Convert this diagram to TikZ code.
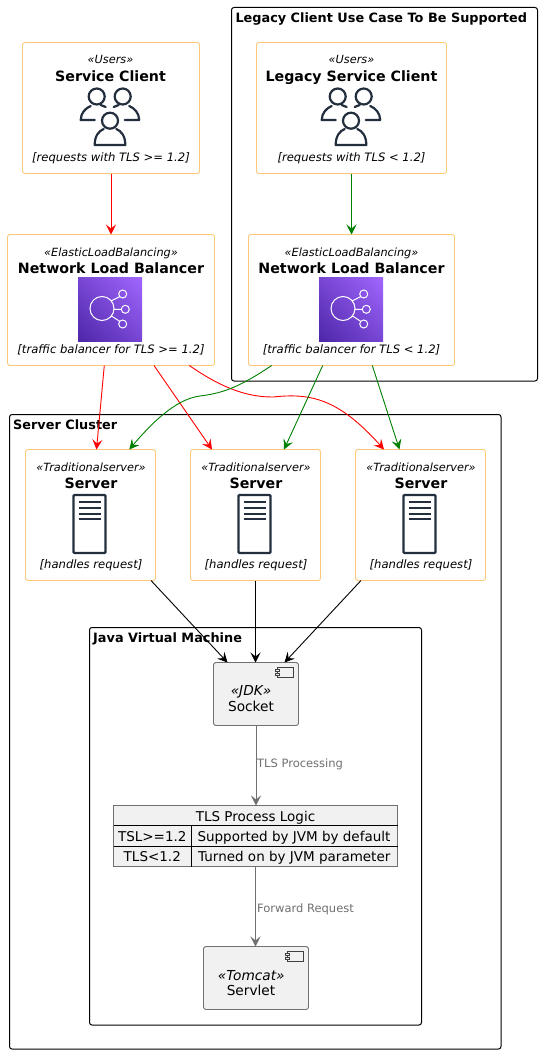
\documentclass[tikz,border=0pt]{standalone}
\usepackage{fontspec}
\setmainfont{DejaVu Sans}
\usetikzlibrary{arrows.meta,calc,shadings}
\definecolor{cardline}{HTML}{FFC878}
\definecolor{awsdark}{HTML}{232F3E}
\definecolor{compfill}{HTML}{F1F1F1}
\definecolor{compline}{HTML}{707070}
\definecolor{flowgray}{HTML}{707070}
\definecolor{flowgreen}{HTML}{008000}
\definecolor{nlblow}{HTML}{4D27A8}
\definecolor{nlbmid}{HTML}{7746D3}
\definecolor{nlbhigh}{HTML}{A166FF}
\tikzset{
  card/.style={rounded corners=2.5pt, draw=cardline, fill=white, line width=.9pt,
    inner sep=0pt, outer sep=0pt, anchor=north west},
  region/.style={rounded corners=2.5pt, draw=black, line width=1pt,
    inner sep=0pt, outer sep=0pt, anchor=north west},
  regiontitle/.style={anchor=base west, inner sep=0pt, font=\fontsize{12.85}{15}\selectfont\bfseries},
  cardstereo/.style={anchor=base, inner sep=0pt, font=\fontsize{11.3}{13}\selectfont\itshape},
  cardtitle/.style={anchor=base, inner sep=0pt, font=\fontsize{14.2}{17}\selectfont\bfseries},
  carddesc/.style={anchor=base, inner sep=0pt, font=\fontsize{11.6}{13}\selectfont\itshape},
  comp/.style={rounded corners=2.5pt, draw=compline, fill=compfill, line width=.9pt,
    inner sep=0pt, outer sep=0pt, anchor=north west},
  comptext/.style={anchor=base, inner sep=0pt, font=\fontsize{13.7}{15}\selectfont},
  compstereo/.style={comptext, font=\fontsize{13.7}{15}\selectfont\itshape},
  celltext/.style={inner sep=0pt, font=\fontsize{13.5}{15}\selectfont},
  elabel/.style={anchor=base west, inner sep=0pt, text=flowgray, font=\fontsize{11.5}{13}\selectfont},
  flow/.style={-{Stealth[length=10pt,width=10pt,inset=4pt]}, line width=.9pt},
  redflow/.style={flow, draw=red},
  greenflow/.style={flow, draw=flowgreen},
  blackflow/.style={flow, draw=black},
  grayflow/.style={flow, draw=flowgray, line width=1pt},
  usersicon/.pic={
    \draw[awsdark, line width=2.2pt, line cap=round, line join=round]
      (-13,-19.5) circle[radius=8pt] (13,-19.5) circle[radius=8pt] (0.3,4.7) circle[radius=8pt]
      (-6,13) .. controls (-11,15) and (-15,20) .. (-15,29) -- (15.6,29) .. controls (15.6,20) and (11.6,15) .. (6.6,13)
      (-15,4) -- (-29,4) .. controls (-29,-3) and (-24,-8) .. (-19,-10)
      (-9,-11) -- (-4,-9)
      (15,4) -- (29.5,4) .. controls (29.5,-3) and (24.5,-8) .. (19.5,-10)
      (9,-11) -- (4,-9);
  },
  nlbicon/.pic={
    \shade[lower left=nlblow, lower right=nlbmid, upper left=nlbmid, upper right=nlbhigh]
      (-32,-32) rectangle (32,32);
    \draw[white, line width=1pt]
      (-8,-.5) circle[radius=12pt]
      (12.7,-15) circle[radius=4pt] (15.3,.3) circle[radius=4pt] (12.7,15) circle[radius=4pt]
      (1,-8) -- (9.7,-12.3) (4,.3) -- (11.3,.3) (1.5,7) -- (9.7,12.3);
  },
  servericon/.pic={
    \draw[awsdark, line width=2.4pt, rounded corners=1pt] (-16,-29) rectangle (16,29);
    \draw[awsdark, line width=2.2pt]
      (-11,-22.3) -- (11,-22.3) (-11,-16.3) -- (11,-16.3) (-11,-10.3) -- (11,-10.3) (-11,-4.7) -- (11,-4.7);
  },
  compicon/.pic={
    \draw[black!75, line width=.8pt, fill=compfill] (0,0) rectangle (16.5,9.8);
    \draw[black!75, line width=.8pt, fill=compfill] (-1.5,1.6) rectangle (2,3.6) (-1.5,5.8) rectangle (2,7.8);
  }
}
\begin{document}
\begin{tikzpicture}[x=1pt,y=-1pt]
  \useasboundingbox[fill=white] (0,0) rectangle (542,1054);

  \node[region, minimum width=306pt, minimum height=373.5pt] (legacygroup) at (231.5,7.5) {};
  \node[region, minimum width=491.5pt, minimum height=634.5pt] (clustergroup) at (9.5,414.5) {};
  \node[region, minimum width=332pt, minimum height=397.5pt] (jvmgroup) at (89.5,627.5) {};
  \node[regiontitle] (legacytitle) at (235.3,22.7) {Legacy Client Use Case To Be Supported};
  \node[regiontitle] (clustertitle) at (13,429.3) {Server Cluster};
  \node[regiontitle] (jvmtitle) at (93,642.7) {Java Virtual Machine};

  \node[card, minimum width=177pt, minimum height=131pt] (client) at (22.5,42.5) {};
  \node[cardstereo] (clientstereo) at (110.5,64) {«Users»};
  \node[cardtitle] (clientname) at (110.5,81.5) {Service Client};
  \pic at (109.7,116) {usersicon};
  \node[carddesc] (clientdesc) at (111,161) {[requests with TLS >= 1.2]};

  \node[card, minimum width=190pt, minimum height=131pt] (legacy) at (256.5,42.5) {};
  \node[cardstereo] (legacystereo) at (351.5,64) {«Users»};
  \node[cardtitle] (legacyname) at (351.5,81.5) {Legacy Service Client};
  \pic at (350.7,116) {usersicon};
  \node[carddesc] (legacydesc) at (351.5,161) {[requests with TLS < 1.2]};

  \node[card, minimum width=207pt, minimum height=131pt] (lbnew) at (7.5,234.5) {};
  \node[cardstereo] (lbnewstereo) at (111,256) {«ElasticLoadBalancing»};
  \node[cardtitle] (lbnewname) at (111,273.5) {Network Load Balancer};
  \pic at (110,309) {nlbicon};
  \node[carddesc] (lbnewdesc) at (111,353) {[traffic balancer for TLS >= 1.2]};

  \node[card, minimum width=206pt, minimum height=131pt] (lbold) at (248.5,234.5) {};
  \node[cardstereo] (lboldstereo) at (351.5,256) {«ElasticLoadBalancing»};
  \node[cardtitle] (lboldname) at (351.5,273.5) {Network Load Balancer};
  \pic at (351,309) {nlbicon};
  \node[carddesc] (lbolddesc) at (351.5,353) {[traffic balancer for TLS < 1.2]};

  \node[card, minimum width=130pt, minimum height=131pt] (servera) at (25.5,449.5) {};
  \node[cardstereo] (serverastereo) at (91,471) {«Traditionalserver»};
  \node[cardtitle] (serveraname) at (91,488.5) {Server};
  \pic at (89.5,524) {servericon};
  \node[carddesc] (serveradesc) at (91,568) {[handles request]};

  \node[card, minimum width=130pt, minimum height=131pt] (serverb) at (190.5,449.5) {};
  \node[cardstereo] (serverbstereo) at (256,471) {«Traditionalserver»};
  \node[cardtitle] (serverbname) at (256,488.5) {Server};
  \pic at (254.5,524) {servericon};
  \node[carddesc] (serverbdesc) at (256,568) {[handles request]};

  \node[card, minimum width=130pt, minimum height=131pt] (serverc) at (355.5,449.5) {};
  \node[cardstereo] (servercstereo) at (421,471) {«Traditionalserver»};
  \node[cardtitle] (servercname) at (421,488.5) {Server};
  \pic at (419.5,524) {servericon};
  \node[carddesc] (servercdesc) at (421,568) {[handles request]};

  \node[comp, minimum width=85pt, minimum height=63pt] (socket) at (213.5,662.5) {};
  \pic at (277,667.7) {compicon};
  \node[compstereo] (socketstereo) at (251,695) {«JDK»};
  \node[comptext] (socketname) at (251,711.7) {Socket};

  \node[comp, rounded corners=0pt, minimum width=284pt, minimum height=61pt] (tlslogic) at (113.5,805.5) {};
  \draw[black, line width=.9pt] (tlslogic.west |- 0,825.5) -- (tlslogic.east |- 0,825.5)
    (tlslogic.west |- 0,846.5) -- (tlslogic.east |- 0,846.5)
    (191.5,825.5) -- (191.5,866.5);
  \node[celltext, anchor=base] (tlslogictitle) at (255.5,821) {TLS Process Logic};
  \node[celltext, anchor=base] (rownewkey) at (152.3,841.7) {TSL>=1.2};
  \node[celltext, anchor=base west] (rownewval) at (197.3,841.7) {Supported by JVM by default};
  \node[celltext, anchor=base] (rowoldkey) at (152.3,861.7) {TLS<1.2};
  \node[celltext, anchor=base west] (rowoldval) at (198,861.7) {Turned on by JVM parameter};

  \node[comp, minimum width=105pt, minimum height=63pt] (servlet) at (203.5,946.5) {};
  \pic at (287,951.7) {compicon};
  \node[compstereo] (servletstereo) at (251.3,980) {«Tomcat»};
  \node[comptext] (servletname) at (251,995.7) {Servlet};

  \draw[redflow] (client.south) -- (client.south |- lbnew.north);
  \draw[greenflow] (legacy.south) -- (legacy.south |- lbold.north);

  \draw[redflow] ([xshift=-6.7pt]lbnew.south) -- ([xshift=6pt]servera.north);
  \draw[redflow] ([xshift=43pt]lbnew.south) -- ([xshift=-43.5pt]serverb.north);
  \draw[redflow] ([xshift=78.3pt]lbnew.south) .. controls +(36,25) and (250,397) .. (273,397)
    .. controls (310,393) and (338,398) .. ([xshift=-36.5pt]serverc.north);
  \draw[greenflow] ([xshift=-79.8pt]lbold.south) .. controls +(-30,20) and (225,393) .. (200,396)
    .. controls (175,399) and (150,425) .. ([xshift=38.8pt]servera.north);
  \draw[greenflow] ([xshift=-28.8pt]lbold.south) -- ([xshift=28.5pt]serverb.north);
  \draw[greenflow] ([xshift=20.8pt]lbold.south) -- ([xshift=-21pt]serverc.north);

  \draw[blackflow] ([xshift=60.5pt]servera.south) -- ([xshift=-28.5pt]socket.north);
  \draw[blackflow] (serverb.south) -- (serverb.south |- socket.north);
  \draw[blackflow] ([xshift=-59.5pt]serverc.south) -- ([xshift=28.5pt]socket.north);

  \draw[grayflow] (socket.south) -- (socket.south |- tlslogic.north);
  \draw[grayflow] (tlslogic.south) -- (tlslogic.south |- servlet.north);
  \node[elabel] (tlslabel) at (257,767.7) {TLS Processing};
  \node[elabel] (forwardlabel) at (257,912.7) {Forward Request};
\end{tikzpicture}
\end{document}
